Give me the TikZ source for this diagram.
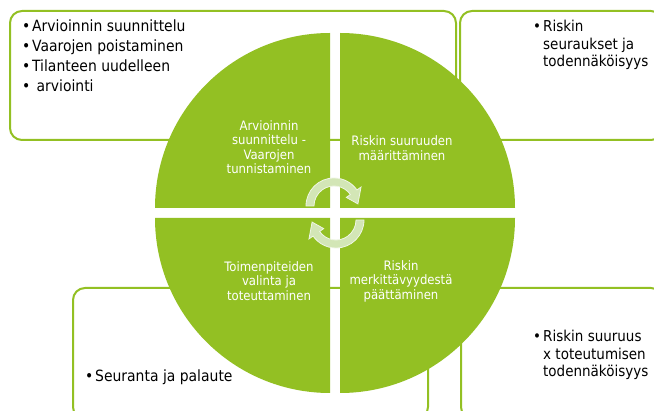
\documentclass[tikz,border=0pt]{standalone}
\usepackage{fontspec}
\setmainfont{DejaVu Sans Condensed}
\usetikzlibrary{calc}
\definecolor{leaf}{HTML}{93C023}
\definecolor{arrfill}{HTML}{D3E6B6}
\definecolor{arredge}{HTML}{EEF5E3}
\tikzset{
  box/.style={draw=leaf, line width=2pt, fill=white, rounded corners=12pt, anchor=north west, inner sep=0pt},
  quad/.style={fill=leaf},
  outertxt/.style={inner sep=0pt, align=left, font=\fontsize{15.5}{19.7}\selectfont, text=black},
  innertxt/.style={inner sep=0pt, align=center, font=\fontsize{13}{14.5}\selectfont, text=white},
  cyc/.style={fill=arrfill, draw=arredge, line width=0.8pt}
}
\newcommand{\bul}{\makebox[10pt][l]{•}}
\begin{document}
\begin{tikzpicture}[x=1pt,y=-1pt]
\useasboundingbox (0,0) rectangle (654,411);
\begin{scope}
\clip (0,0) rectangle (654,411);
% background boxes
\node[box, minimum width=446pt, minimum height=129pt] (boxTL) at (9,10) {};
\node[box, minimum width=203pt, minimum height=129pt] (boxTR) at (459,10) {};
\node[box, minimum width=355pt, minimum height=131pt] (boxBL) at (72,287) {};
\node[box, minimum width=202pt, minimum height=131pt] (boxBR) at (460,287) {};
% quadrants
\fill[quad] (330,208) -- (155,208) arc[start angle=180, end angle=270, radius=175] -- cycle;
\fill[quad] (340,208) -- (340,33) arc[start angle=270, end angle=360, radius=175] -- cycle;
\fill[quad] (340,218) -- (515,218) arc[start angle=0, end angle=90, radius=175] -- cycle;
\fill[quad] (330,218) -- (330,393) arc[start angle=90, end angle=180, radius=175] -- cycle;
% cycle arrows
\coordinate (ca) at (334,206);
\coordinate (cb) at (336,220);
\path[cyc] ($(ca)+(180:28)$) arc[start angle=180, end angle=325, radius=28]
  -- ($(ca)+(325:33)$) -- ($(ca)+(355:24)$) -- ($(ca)+(325:15)$) -- ($(ca)+(325:20)$)
  arc[start angle=325, end angle=180, radius=20] -- cycle;
\path[cyc] ($(cb)+(0:28)$) arc[start angle=0, end angle=145, radius=28]
  -- ($(cb)+(145:33)$) -- ($(cb)+(175:24)$) -- ($(cb)+(145:15)$) -- ($(cb)+(145:20)$)
  arc[start angle=145, end angle=0, radius=20] -- cycle;
\end{scope}
% outer texts
\node[outertxt, anchor=north west] (tlt) at (22,20) {\bul Arvioinnin suunnittelu\\\bul Vaarojen poistaminen\\\bul Tilanteen uudelleen\\\bul\ arviointi};
\node[outertxt, font=\fontsize{15}{17.5}\selectfont, anchor=north west] (trt) at (533,20) {\bul Riskin\\\hspace*{10pt}seuraukset ja\\\hspace*{10pt}todennäköisyys};
\node[outertxt, font=\fontsize{15}{17.5}\selectfont, anchor=north west] (brt) at (533,330) {\bul Riskin suuruus\\\hspace*{10pt}x toteutumisen\\\hspace*{10pt}todennäköisyys};
\node[outertxt, anchor=north west] (blt) at (85,370) {\bul Seuranta ja palaute};
% inner texts
\node[innertxt] (q1) at (269,147) {Arvioinnin\\suunnittelu -\\Vaarojen\\tunnistaminen};
\node[innertxt] (q2) at (402,148) {Riskin suuruuden\\määrittäminen};
\node[innertxt] (q3) at (269,281) {Toimenpiteiden\\valinta ja\\toteuttaminen};
\node[innertxt] (q4) at (401,281) {Riskin\\merkittävyydestä\\päättäminen};
\end{tikzpicture}
\end{document}
